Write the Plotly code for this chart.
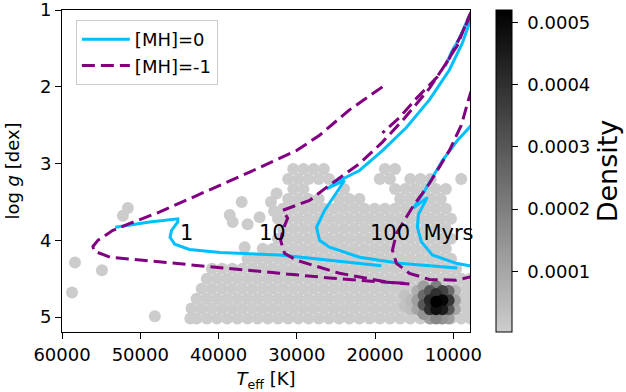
import plotly.graph_objects as go

# ---------------- isochrones, [MH]=0 (1, 10, 100 Myr) ----------------
mh0_1_T = [19200, 25800, 32200, 39800, 43700, 45600, 46200, 46000, 45200, 45200, 46900, 48800, 51300, 53200]
mh0_1_g = [4.33, 4.26, 4.19, 4.16, 4.12, 4.05, 3.96, 3.87, 3.76, 3.72, 3.74, 3.76, 3.80, 3.83]

mh0_10_T = [9490, 13060, 16890, 21990, 25820, 27090, 27480, 26450, 25180, 23900, 26200, 24540, 21990, 19060,
            16000, 13060, 10510, 8850, 7960, 7200, 8210, 9240, 10260, 11020]
mh0_10_g = [4.36, 4.33, 4.30, 4.22, 4.09, 4.00, 3.83, 3.61, 3.41, 3.22, 3.33, 3.22, 3.09, 2.83,
            2.53, 2.17, 1.78, 1.43, 1.17, 0.97, 1.13, 1.37, 1.55, 1.73]

mh0_100_T = [7200, 7960, 9620, 12680, 14080, 14590, 14460, 13320, 15100, 13700, 11400, 9490, 7960, 6940]
mh0_100_g = [4.33, 4.33, 4.30, 4.19, 4.02, 3.83, 3.66, 3.44, 3.58, 3.36, 2.96, 2.70, 2.53, 2.40]

# ---------------- isochrones, [MH]=-1 (1, 10, 100 Myr) ----------------
mhm1_1_T = [19060, 23270, 27090, 30030, 36020, 43290, 47500, 51330, 53500, 55410, 56050, 55920, 53880,
            49670, 45330, 39850, 32190, 25820, 15610]
mhm1_1_g = [2.00, 2.30, 2.63, 2.83, 3.11, 3.44, 3.63, 3.78, 3.87, 4.00, 4.08, 4.14, 4.22,
            4.26, 4.30, 4.36, 4.43, 4.49, 4.57]

mhm1_10_T = [16250, 18160, 24540, 27090, 30030, 31560, 32070, 31680, 31170, 31810, 30030, 28370, 26200,
             21990, 19060, 16250, 13060, 10510, 8600, 7700, 6940, 7960, 9490, 12040, 14720, 16890, 19060]
mhm1_10_g = [4.56, 4.55, 4.43, 4.35, 4.26, 4.17, 4.00, 3.84, 3.71, 3.61, 3.54, 3.48, 3.31,
             3.00, 2.72, 2.41, 2.02, 1.63, 1.24, 1.03, 0.87, 1.07, 1.46, 1.87, 2.15, 2.40, 2.60]

mhm1_100_T = [7200, 7960, 9620, 13060, 15610, 17270, 17780, 17270, 15230, 13060, 10510, 8980, 7960, 7450]
mhm1_100_g = [4.47, 4.48, 4.52, 4.51, 4.43, 4.30, 4.13, 3.91, 3.57, 3.26, 2.83, 2.50, 2.13, 1.98]

# ---------------- star sample (Teff per logg row) ----------------
row_logg = [5.02, 4.89, 4.76, 4.63, 4.50, 4.37, 4.24, 4.11, 3.98, 3.85, 3.72, 3.59, 3.46, 3.33, 3.20, 3.07]
row_teff = [
    [43600, 42800, 41500, 40200, 38900, 37600, 36300, 35000, 33700, 32400, 31100, 29800, 28500, 27200, 25900,
     24600, 23300, 22000, 20700, 19400, 18100, 16800, 15500, 14200, 12900, 11600, 10300, 9000, 7800],
    [43450, 42150, 40850, 39550, 38250, 36950, 35650, 34350, 33050, 31750, 30450, 29150, 27850, 26550, 25250,
     23950, 22650, 21350, 20050, 18750, 17450, 16150, 14850, 13550, 12250, 10950, 9650, 8350],
    [42800, 41500, 40200, 38900, 37600, 36300, 35000, 33700, 32400, 31100, 29800, 28500, 27200, 25900,
     24600, 23300, 22000, 20700, 19400, 18100, 16800, 15500, 14200, 12900, 11600, 10300, 9000, 7800],
    [42150, 40850, 39550, 38250, 36950, 35650, 34350, 33050, 31750, 30450, 29150, 27850, 26550, 25250,
     23950, 22650, 21350, 20050, 18750, 17450, 16150, 14850, 13550, 12250, 10950, 9650, 8350],
    [41500, 40200, 38900, 37600, 36300, 35000, 33700, 32400, 31100, 29800, 28500, 27200, 25900,
     24600, 23300, 22000, 20700, 19400, 18100, 16800, 15500, 14200, 12900, 11600, 10300, 9000, 7800],
    [40850, 39550, 38250, 36950, 35650, 34350, 33050, 31750, 30450, 29150, 27850, 26550, 25250,
     23950, 22650, 21350, 20050, 18750, 17450, 16150, 14850, 13550, 12250, 10950, 9650],
    [36300, 35000, 33700, 32400, 31100, 29800, 28500, 27200, 25900, 24600, 23300, 22000, 20700, 19400,
     18100, 16800, 15500, 14200, 12900, 11600, 10300],
    [34350, 33050, 31750, 30450, 29150, 27850, 26550, 25250, 23950, 22650, 21350, 20050, 18750, 17450,
     16150, 14850, 13550, 12250, 10950],
    [32400, 31100, 29800, 28500, 27200, 25900, 24600, 23300, 22000, 20700, 19400, 18100, 16800, 15500,
     14200, 12900, 11600, 10300],
    [31750, 30450, 29150, 27850, 26550, 25250, 23950, 22650, 21350, 20050, 18750, 17450, 16150, 14850,
     13550, 12250, 10950],
    [32400, 31100, 29800, 28500, 27200, 25900, 24600, 23300, 22000, 20700, 19400, 18100, 16800, 15500,
     14200, 12900, 11600, 10300],
    [31750, 30450, 29150, 27850, 26550, 25250, 23950, 22650, 21350, 20050, 18750, 17450, 16150, 14850,
     13550, 12250, 10950],
    [31100, 29800, 28500, 27200, 24600, 23300, 22000, 16800, 15500, 14200, 12900, 11600],
    [30450, 29150, 23950, 17450, 16150, 14850, 13550, 12250, 10950],
    [31100, 29800, 28500, 27200, 25900, 19400, 18100, 15500, 14200, 12900, 9000],
    [30450, 29150, 27850, 26550, 18750, 17450],
]
extra_teff = [51580, 52220, 58340, 54900, 58720, 48140, 37040, 38570, 38190, 36280, 34750, 36660, 32580, 33300, 32900]
extra_logg = [3.58, 3.68, 4.29, 4.39, 4.68, 4.99, 3.50, 3.67, 3.76, 3.79, 3.70, 4.09, 3.39, 3.50, 3.62]
bg_density = 0.000004

# dense clump of cool dwarfs
clump_teff = [15400, 15400, 14600, 14600, 14600, 13800, 13800, 13800, 13800, 13000, 13000, 13000, 13000,
              12200, 12200, 12200, 12200, 12200, 11400, 11400, 11400, 11400, 10600, 10600, 10600, 10600,
              9800, 9800, 9800, 16200, 16200]
clump_logg = [4.78, 4.90, 4.66, 4.78, 4.90, 4.60, 4.72, 4.84, 4.96, 4.66, 4.78, 4.90, 5.02,
              4.60, 4.70, 4.80, 4.90, 5.02, 4.66, 4.78, 4.90, 5.02, 4.66, 4.78, 4.90, 5.02,
              4.66, 4.78, 4.90, 4.72, 4.86]
clump_dens = [0.00005, 0.00004, 0.00008, 0.00012, 0.00010, 0.00012, 0.00025, 0.00030, 0.00015, 0.00030,
              0.00042, 0.00040, 0.00012, 0.00020, 0.00040, 0.00052, 0.00048, 0.00018, 0.00035, 0.00050,
              0.00045, 0.00015, 0.00025, 0.00038, 0.00030, 0.00012, 0.00006, 0.00012, 0.00010,
              0.00003, 0.00003]

cb_ticks = [0.0001, 0.0002, 0.0003, 0.0004, 0.0005]
x_ticks = [60000, 50000, 40000, 30000, 20000, 10000]
y_ticks = [1, 2, 3, 4, 5]

# ---------------- assemble sample ----------------
pts_T, pts_g, pts_d = [], [], []
for g, ts in zip(row_logg, row_teff):
    for t in ts:
        pts_T.append(t); pts_g.append(g); pts_d.append(bg_density)
for t, g in zip(extra_teff, extra_logg):
    pts_T.append(t); pts_g.append(g); pts_d.append(bg_density)
order = sorted(range(len(clump_dens)), key=lambda i: clump_dens[i])
for i in order:
    pts_T.append(clump_teff[i]); pts_g.append(clump_logg[i]); pts_d.append(clump_dens[i])

FONT = "DejaVu Sans"
fig = go.Figure()
fig.add_trace(go.Scatter(
    x=pts_T, y=pts_g, mode="markers", showlegend=False, hoverinfo="skip",
    marker=dict(size=12, color=pts_d, cmin=0.0000024, cmax=0.00052,
                colorscale=[[0, "rgb(205,205,205)"], [1, "rgb(0,0,0)"]],
                line=dict(width=0),
                colorbar=dict(x=1.0637, xanchor="left", xpad=0, ypad=0, thickness=16, len=1.0,
                              lenmode="fraction", y=0.5, yanchor="middle",
                              outlinewidth=1, outlinecolor="black",
                              tickvals=cb_ticks, ticktext=["\u00a0%.4f" % v for v in cb_ticks],
                              ticks="outside", ticklen=6, tickcolor="black",
                              tickfont=dict(size=18, family=FONT, color="black"),
                              title=dict(text="Density", side="right",
                                         font=dict(size=27, family=FONT, color="black"))))))

for i, (T, g) in enumerate([(mh0_1_T, mh0_1_g), (mh0_10_T, mh0_10_g), (mh0_100_T, mh0_100_g)]):
    fig.add_trace(go.Scatter(x=T, y=g, mode="lines", name="[MH]=0", legendgroup="mh0",
                             showlegend=(i == 0), line=dict(color="deepskyblue", width=3)))
for i, (T, g) in enumerate([(mhm1_1_T, mhm1_1_g), (mhm1_10_T, mhm1_10_g), (mhm1_100_T, mhm1_100_g)]):
    fig.add_trace(go.Scatter(x=T, y=g, mode="lines", name="[MH]=-1", legendgroup="mhm1",
                             showlegend=(i == 0), line=dict(color="purple", width=3, dash="13px,6px")))

for txt, tx, ty in [("1", 44060, 3.90), ("10", 33090, 3.90), ("100\u00a0\u00a0Myrs", 13950, 3.90)]:
    fig.add_annotation(x=tx, y=ty, text=txt, showarrow=False, xanchor="center", yanchor="middle",
                       font=dict(size=21, family=FONT, color="black"))

axis_common = dict(showgrid=False, zeroline=False, showline=True, mirror=True, linecolor="black",
                   linewidth=1, ticks="outside", ticklen=6, tickwidth=1, tickcolor="black",
                   automargin=False, ticklabeloverflow="allow",
                   tickfont=dict(size=18, family=FONT, color="black"))
fig.update_xaxes(range=[60000, 7870], tickvals=x_ticks, ticktext=[str(v) for v in x_ticks],
                 title=dict(text="<i>T</i><sub>eff</sub> [K]", font=dict(size=18, family=FONT, color="black")),
                 **axis_common)
fig.update_yaxes(range=[5.195, 0.998], tickvals=y_ticks, ticktext=[str(v) for v in y_ticks],
                 title=dict(text="log <i>g</i> [dex]", font=dict(size=18, family=FONT, color="black")),
                 **axis_common)

fig.update_layout(
    width=626, height=392, margin=dict(l=62, r=156, t=10, b=60, autoexpand=False),
    plot_bgcolor="white", paper_bgcolor="white",
    font=dict(family=FONT, color="black"),
    legend=dict(x=0.034, y=0.969, xanchor="left", yanchor="top", bgcolor="rgba(255,255,255,0.8)",
                bordercolor="#cccccc", borderwidth=1, font=dict(size=18, family=FONT, color="black"),
                itemwidth=48, tracegroupgap=0),
)
fig.write_html("out.html")
